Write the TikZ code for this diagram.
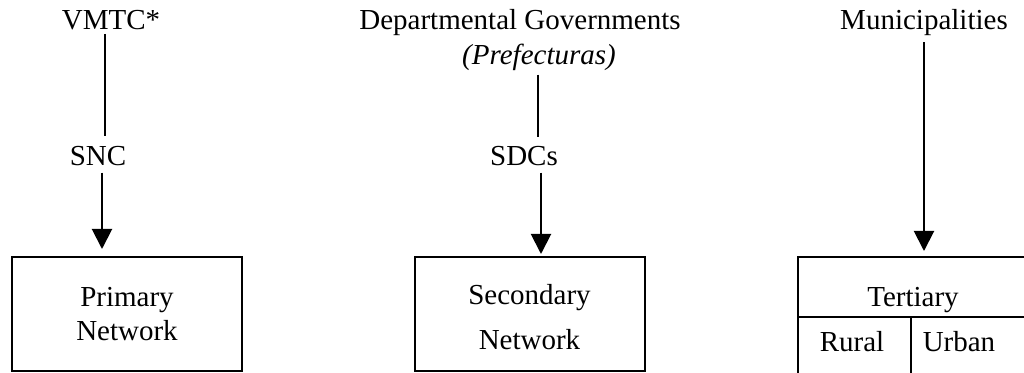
\documentclass[tikz,border=0pt]{standalone}
\usepackage{fontspec}
\setmainfont{Liberation Serif}
\usetikzlibrary{arrows.meta}
\begin{document}
\begin{tikzpicture}[x=0.5pt,y=-0.5pt,
  lab/.style={inner sep=0pt,anchor=base,font=\fontsize{14.5}{17.4}\selectfont},
  conn/.style={line width=1pt},
  arr/.style={line width=1pt,-{Triangle[width=10pt,length=10pt]}},
  netbox/.style={draw,line width=1pt,minimum width=115pt,minimum height=57pt,inner sep=0pt,align=center},
  boxtext/.style={inner sep=0pt,align=center},
  cell/.style={line width=1pt}]
\useasboundingbox (0,0) rectangle (1024,373);
\clip (0,0) rectangle (1024,373);
% column 1
\node[lab] (vmtc) at (111,30) {VMTC*};
\node[lab] (snc) at (98,166) {SNC};
\node[netbox,font=\fontsize{14.5}{17}\selectfont] (box1) at (127,314) {Primary\\Network};
\coordinate (a1) at (105,0);
\coordinate (b1) at (102,0);
\draw[conn,shorten <=1.5pt,shorten >=5.2pt] (a1 |- vmtc.south) -- (a1 |- snc.north);
\draw[arr,shorten <=3pt,shorten >=3.5pt] (b1 |- snc.south) -- (b1 |- box1.north);
% column 2
\node[lab] (dep) at (520,30) {Departmental Governments};
\node[lab] (pref) at (539,65) {\itshape(Prefecturas)};
\node[lab] (sdc) at (524,166) {SDCs};
\node[netbox] (box2) at (529.5,314) {};
\node[boxtext,font=\fontsize{14.5}{22.5}\selectfont] (txt2) at ([yshift=-1.75pt]box2.center) {Secondary\\Network};
\coordinate (a2) at (538,0);
\coordinate (b2) at (541,0);
\draw[conn,shorten <=1.5pt,shorten >=4.7pt] (a2 |- pref.south) -- (a2 |- sdc.north);
\draw[arr,shorten <=3pt,shorten >=1pt] (b2 |- sdc.south) -- (b2 |- box2.north);
% column 3
\node[lab] (mun) at (924,30) {Municipalities};
\node[draw,line width=1pt,minimum width=115pt,minimum height=59pt,inner sep=0pt] (box3) at (913,316) {};
\node[lab] (ter) at (913,307) {Tertiary};
\node[lab] (rur) at (852,352) {Rural};
\node[lab] (urb) at (959,352) {Urban};
\coordinate (hd) at (0,317);
\coordinate (vd) at (911,317);
\draw[cell] (box3.west |- hd) -- (box3.east |- hd);
\draw[cell] (vd) -- (vd |- box3.south);
\coordinate (a3) at (924,0);
\draw[arr,shorten <=2.8pt,shorten >=2.5pt] (a3 |- mun.south) -- (a3 |- box3.north);
\end{tikzpicture}
\end{document}
